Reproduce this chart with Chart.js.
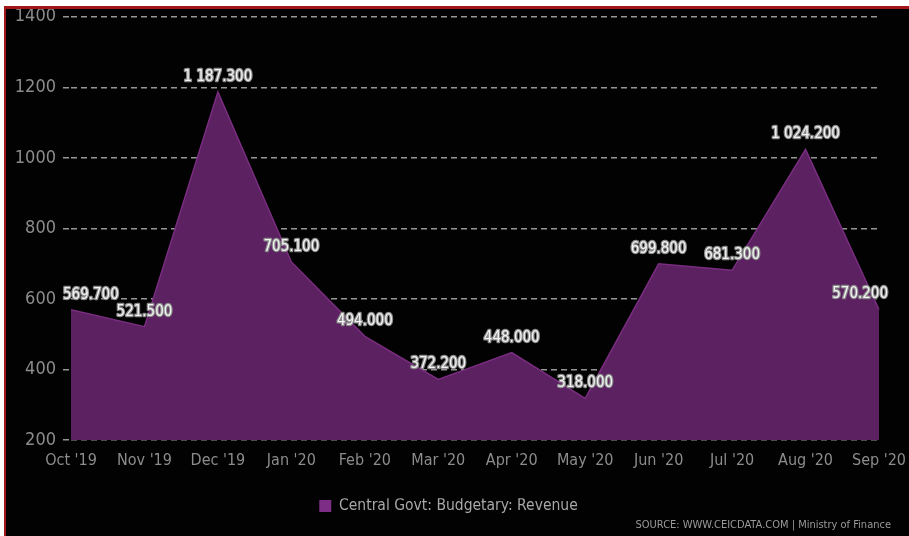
<!DOCTYPE html>
<html>
<head>
<meta charset="utf-8">
<script src="https://cdn.jsdelivr.net/npm/chart.js@4/dist/chart.umd.min.js"></script>
<style>
  html, body { margin: 0; padding: 0; background: #fff; }
  #frame {
    position: absolute; left: 4px; top: 6px; width: 905px; height: 530px;
    background: #020202; border-top: 3px solid #a3161a; border-left: 2px solid #a3161a;
    overflow: hidden;
  }
  #wrap { position: absolute; left: 0; top: -10px; width: 903px; height: 537px; }
</style>
</head>
<body>
<div id="frame"><div id="wrap"><canvas id="chart"></canvas></div></div>
<script>
// 数据：中央政府预算收入（月度）
const months = ["Oct '19", "Nov '19", "Dec '19", "Jan '20", "Feb '20", "Mar '20",
                "Apr '20", "May '20", "Jun '20", "Jul '20", "Aug '20", "Sep '20"];
const revenue = [569.7, 521.5, 1187.3, 705.1, 494.0, 372.2, 448.0, 318.0, 699.8, 681.3, 1024.2, 570.2];
const yTicks = [200, 400, 600, 800, 1000, 1200, 1400];

const FONT = '"DejaVu Sans", sans-serif';
// Chart.js 会校验 style，所以把 condensed 塞进 weight 字段
const cond = size => ({ family: FONT, size, weight: 'condensed' });

function fmtLabel(v) {
  const [i, d] = v.toFixed(3).split('.');
  return i.replace(/\B(?=(\d{3})+(?!\d))/g, ' ') + '.' + d;
}

// 数据标签：白字灰描边，贴着图区边缘夹住
const valueLabels = {
  id: 'valueLabels',
  afterDatasetsDraw(chart) {
    const ctx = chart.ctx;
    const meta = chart.getDatasetMeta(0);
    const area = chart.chartArea;
    ctx.save();
    ctx.font = 'condensed 15px ' + FONT;
    ctx.textBaseline = 'middle';
    ctx.textAlign = 'left';
    ctx.lineJoin = 'round';
    meta.data.forEach((pt, i) => {
      const txt = fmtLabel(revenue[i]);
      const w = ctx.measureText(txt).width;
      let x = pt.x - w / 2;
      x = Math.max(area.left - 8, Math.min(x, area.right + 9 - w));
      const y = pt.y - 15;
      ctx.strokeStyle = '#8a8a8a';
      ctx.lineWidth = 2.5;
      ctx.strokeText(txt, x, y);
      ctx.fillStyle = '#f4f4f4';
      ctx.fillText(txt, x, y);
    });
    ctx.restore();
  }
};

new Chart(document.getElementById('chart'), {
  type: 'line',
  data: {
    labels: months,
    datasets: [{
      label: 'Central Govt: Budgetary: Revenue',
      data: revenue,
      borderColor: '#7a2d80',
      backgroundColor: '#5b2161',
      fill: 'start',
      tension: 0,
      pointRadius: 0,
      borderWidth: 1.5,
    }]
  },
  options: {
    responsive: true,
    maintainAspectRatio: false,
    animation: false,
    layout: { padding: { left: 0, right: 18, top: 0, bottom: 2 } },
    plugins: {
      legend: {
        position: 'bottom',
        labels: {
          color: '#a8a8a8',
          font: cond(15.5),
          boxWidth: 12, boxHeight: 12,
          padding: 0,
          generateLabels: chart => [{
            text: 'Central Govt: Budgetary: Revenue',
            fillStyle: '#7d2d85', strokeStyle: '#7d2d85', lineWidth: 0,
            fontColor: '#a8a8a8', datasetIndex: 0,
          }],
        }
      },
      subtitle: {
        display: true,
        position: 'bottom',
        align: 'end',
        text: 'SOURCE: WWW.CEICDATA.COM | Ministry of Finance',
        color: '#9a9a9a',
        font: cond(11),
        padding: { top: -5, bottom: 2 },
      },
      tooltip: { enabled: false },
    },
    scales: {
      x: {
        grid: { display: false },
        border: { display: false },
        afterFit: axis => { axis.height += 25; },
        ticks: {
          color: '#8c8c8c',
          font: cond(16),
          padding: 3,
          maxRotation: 0,
          autoSkip: false,
        }
      },
      y: {
        min: 200, max: 1400,
        z: 1,
        afterBuildTicks: axis => { axis.ticks = yTicks.map(v => ({ value: v })); },
        afterFit: axis => { axis.width = 65; },
        grid: {
          color: 'rgba(200,200,200,0.75)',
          lineWidth: 1.5,
          tickLength: 8,
          tickColor: 'rgba(200,200,200,0.75)',
          tickBorderDash: [6, 4],
        },
        border: { display: false, dash: [6, 4] },
        ticks: {
          color: '#8c8c8c',
          font: cond(18),
          padding: 7,
          callback: v => String(v),
        }
      }
    }
  },
  plugins: [valueLabels]
});
</script>
</body>
</html>
